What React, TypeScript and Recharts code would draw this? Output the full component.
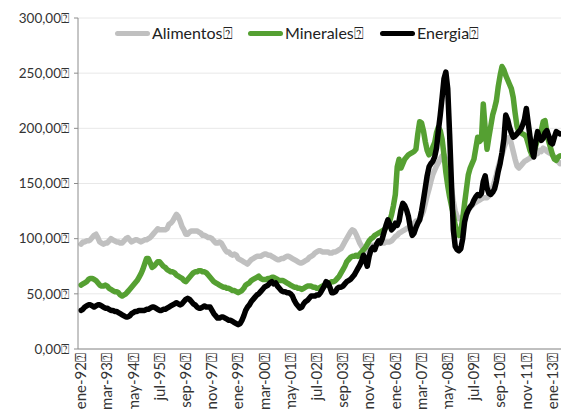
import { LineChart, Line, XAxis, YAxis, CartesianGrid } from "recharts";

// Índices mensuales ene-92 .. may-13
const MESES = ["ene", "feb", "mar", "abr", "may", "jun", "jul", "ago", "sep", "oct", "nov", "dic"];
const ANIO_INICIO = 1992;

const ALIMENTOS = [
  95, 97, 97, 98, 98, 99, 101, 103, 104, 101, 97, 96,
  95, 96, 96, 98, 100, 99, 98, 97, 97, 96, 96, 98,
  100, 101, 99, 97, 98, 99, 99, 98, 97, 98, 99, 99,
  100, 101, 103, 105, 107, 109, 108, 108, 108, 108, 109, 113,
  114, 116, 119, 122, 120, 116, 111, 108, 104, 104, 106, 107,
  107, 107, 107, 106, 105, 103, 103, 102, 101, 101, 100, 98,
  96, 96, 97, 96, 93, 90, 88, 88, 86, 85, 86, 85,
  82, 81, 80, 79, 78, 77, 79, 81, 82, 83, 84, 84,
  84, 85, 86, 86, 85, 85, 84, 83, 82, 81, 81, 82,
  82, 83, 84, 84, 83, 82, 81, 80, 79, 78, 78, 79,
  80, 81, 83, 84, 85, 87, 88, 89, 89, 88, 88, 88,
  88, 87, 87, 88, 88, 89, 90, 91, 94, 97, 100, 103,
  106, 108, 107, 104, 100, 96, 93, 91, 89, 90, 92, 93,
  94, 94, 95, 95, 96, 96, 96, 97, 97, 97, 98, 100,
  102, 103, 105, 106, 107, 108, 109, 110, 111, 112, 114, 116,
  116, 118, 121, 125, 132, 139, 145, 152, 158, 162, 166, 169,
  172, 175, 176, 172, 165, 155, 145, 134, 125, 120, 118, 118,
  120, 123, 125, 127, 128, 130, 132, 133, 134, 135, 136, 137,
  137, 137, 139, 142, 146, 152, 158, 165, 171, 176, 182, 187,
  191, 192, 186, 179, 172, 166, 164, 166, 168, 170, 171, 172,
  173, 176, 175, 178, 177, 180, 179, 182, 181, 179, 178, 177,
  176, 174, 172, 170, 168,
];

const MINERALES = [
  58, 59, 60, 61, 63, 64, 64, 63, 62, 60, 58, 57,
  57, 58, 57, 55, 54, 53, 52, 52, 51, 49, 48, 49,
  50, 52, 54, 56, 58, 60, 62, 65, 68, 72, 77, 82,
  82, 78, 74, 75, 77, 79, 79, 77, 75, 74, 72, 71,
  70, 70, 69, 67, 66, 65, 64, 62, 61, 63, 65, 67,
  69, 70, 70, 71, 71, 70, 70, 69, 67, 65, 63, 61,
  60, 59, 58, 57, 56, 56, 55, 55, 54, 53, 53, 52,
  51, 52, 53, 55, 58, 59, 60, 62, 63, 64, 65, 66,
  64, 63, 63, 63, 64, 64, 65, 65, 64, 63, 62, 62,
  62, 61, 60, 59, 58, 57, 56, 56, 55, 55, 54, 55,
  56, 57, 57, 57, 56, 56, 55, 55, 56, 57, 58, 58,
  59, 60, 61, 61, 62, 64, 66, 69, 72, 75, 79, 81,
  83, 84, 84, 85, 84, 86, 88, 90, 92, 95, 98, 100,
  101, 103, 104, 105, 106, 107, 108, 110, 112, 116, 122, 130,
  140, 165, 172, 164, 168, 172, 174, 176, 177, 178, 179, 181,
  195, 206, 205, 198, 188, 180, 176, 178, 183, 187, 196, 201,
  198, 190, 176, 160, 148, 138, 130, 122, 112, 104, 103, 108,
  118, 132, 145, 158, 164, 168, 172, 182, 192, 188, 190, 222,
  200, 181, 192, 202, 212, 218, 225, 238, 248, 256, 253, 248,
  244, 240, 236, 228, 214, 202, 197, 196, 195, 194, 192, 186,
  180, 176, 178, 184, 190, 192, 198, 206, 207, 196, 188, 182,
  176, 172, 171, 174, 175,
];

const ENERGIA = [
  35, 36, 38, 39, 40, 40, 39, 38, 39, 40, 40, 39,
  38, 37, 37, 36, 35, 35, 34, 34, 33, 32, 31, 30,
  29, 29, 30, 32, 33, 34, 34, 35, 35, 35, 35, 36,
  36, 37, 38, 38, 37, 36, 35, 35, 36, 36, 37, 38,
  39, 40, 41, 42, 41, 40, 41, 43, 45, 46, 45, 43,
  41, 40, 38, 37, 37, 38, 39, 38, 38, 38, 35, 32,
  30, 28, 28, 29, 29, 28, 27, 26, 26, 25, 24, 23,
  22, 23, 26, 30, 35, 38, 40, 43, 45, 47, 49, 50,
  52, 54, 56, 57, 58, 60, 61, 59, 60, 57, 55, 53,
  52, 52, 51, 51, 50, 48, 44, 41, 39, 37, 38, 41,
  43, 44, 46, 48, 48, 48, 49, 49, 51, 54, 57, 61,
  60, 56, 51, 51, 52, 55, 56, 56, 57, 59, 61, 62,
  63, 65, 67, 70, 73, 76, 80, 85, 80, 75, 84, 90,
  92, 90, 95, 98, 96, 100, 106, 112, 117, 113, 108, 110,
  114, 112, 116, 126, 132, 130, 126, 120, 110, 103, 105, 110,
  114, 117, 125, 135, 146, 157, 165, 168, 170, 174, 182, 198,
  212, 228, 245, 251, 236, 195, 150, 108, 93, 90, 89, 91,
  100, 115, 122, 126, 129, 131, 135, 138, 140, 139, 141, 152,
  157, 146, 141, 140, 142, 145, 152, 161, 168, 178, 190, 212,
  208, 201, 196, 192, 193, 195, 197, 199, 203, 208, 218, 205,
  192, 180, 174, 188, 197, 192, 189, 191, 196, 198, 193, 187,
  186, 192, 197, 196, 195,
];

const Y_TICKS = [0, 50, 100, 150, 200, 250, 300];
const CAJA = "\u2370"; // glifo faltante que se ve en las etiquetas

const SERIES = [
  { key: "Alimentos", color: "#c0c0c0", values: ALIMENTOS },
  { key: "Minerales", color: "#55a032", values: MINERALES },
  { key: "Energia", color: "#000000", values: ENERGIA },
];

const data = ALIMENTOS.map((_, i) => {
  const anio = ANIO_INICIO + Math.floor(i / 12);
  const row: any = { mes: `${MESES[i % 12]}-${String(anio).slice(2)}` };
  SERIES.forEach((s) => (row[s.key] = s.values[i]));
  return row;
});

const FONT = "Lato, 'Open Sans', sans-serif";

const XTick = ({ x, y, payload }: any) => (
  <text
    x={x}
    y={y}
    transform={`rotate(-90, ${x}, ${y})`}
    textAnchor="end"
    dy="0.35em"
    fontSize={15}
    fontFamily={FONT}
    fill="#333"
  >
    {payload.value + CAJA}
  </text>
);

// leyenda dibujada a mano, arriba del gráfico
const LEGEND_POS = [115, 248, 380];

const App = () => {
  return (
    <div
      style={{
        position: "fixed",
        left: 0,
        top: 0,
        width: 561,
        height: 409,
        overflow: "hidden",
        background: "#fff",
        fontFamily: FONT,
      }}
    >
      <LineChart width={563} height={409} data={data} margin={{ top: 18, right: 0, bottom: 0, left: 0 }}>
        <CartesianGrid vertical={false} stroke="#e8e8e8" />
        <XAxis
          dataKey="mes"
          interval={13}
          height={60}
          padding={{ left: 3, right: 3 }}
          tick={<XTick />}
          tickSize={3}
          tickMargin={1}
          tickLine={false}
          axisLine={{ stroke: "#8c8c8c" }}
        />
        <YAxis
          width={78}
          domain={[0, 300]}
          ticks={Y_TICKS}
          interval={0}
          tickFormatter={(v: number) => `${v},00${CAJA}`}
          tick={{ fontSize: 13.5, fill: "#333", fontFamily: FONT }}
          tickSize={4}
          tickMargin={5}
          tickLine={{ stroke: "#8c8c8c" }}
          axisLine={{ stroke: "#8c8c8c" }}
        />
        {SERIES.map((s) => (
          <Line
            key={s.key}
            type="linear"
            dataKey={s.key}
            stroke={s.color}
            strokeWidth={5.5}
            strokeLinejoin="round"
            strokeLinecap="round"
            dot={false}
            activeDot={false}
            isAnimationActive={false}
          />
        ))}
      </LineChart>
      {SERIES.map((s, i) => (
        <div
          key={s.key}
          style={{
            position: "absolute",
            left: LEGEND_POS[i],
            top: 22,
            height: 22,
            display: "flex",
            alignItems: "center",
            fontSize: 16,
            color: "#222",
            whiteSpace: "nowrap",
          }}
        >
          <span style={{ display: "inline-block", width: 35, height: 5, borderRadius: 3, background: s.color, marginRight: 2 }} />
          <span>{s.key + CAJA}</span>
        </div>
      ))}
    </div>
  );
};

export default App;
